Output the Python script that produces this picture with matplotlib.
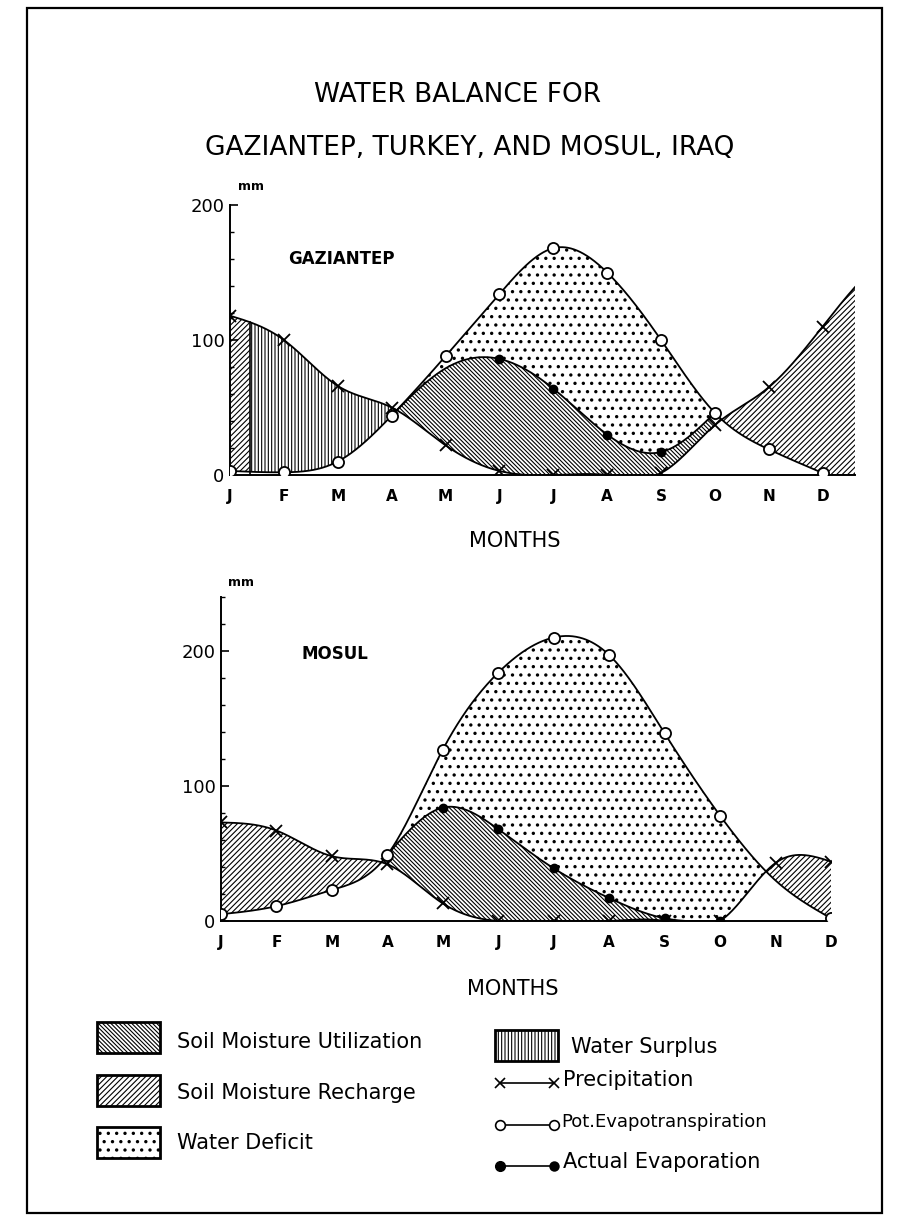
import matplotlib
matplotlib.use('Agg')
import matplotlib.pyplot as plt
import numpy as np
from matplotlib.patches import Rectangle

# monthly values (mm)
months = ['J', 'F', 'M', 'A', 'M', 'J', 'J', 'A', 'S', 'O', 'N', 'D']

gaz_precip = [118, 100, 66, 50, 22, 3, 0, 0, 1.5, 37, 65, 110]
gaz_pet = [3, 2, 10, 44, 88, 134, 168, 150, 100, 46, 19, 1.5]
gaz_ae_months = [3, 4, 5, 6, 7, 8, 9]
gaz_ae = [44, 79, 86, 64, 30, 17, 46]

mos_precip = [73, 67, 48, 42, 13, 0, 0, 0, 0, 0, 43, 44]
mos_pet = [5, 11, 23, 49, 127, 184, 210, 197, 139, 78, 30, 2]
mos_ae_months = [3, 4, 5, 6, 7, 8, 9]
mos_ae = [49, 84, 68, 39, 17, 2, 0]

W, H = 905, 1228
plt.rcParams['font.family'] = ['DejaVu Sans']
plt.rcParams['hatch.linewidth'] = 0.8

HATCH_UTIL = '\\' * 8
HATCH_RECH = '/' * 6
HATCH_SURP = '|||||'
HATCH_DEF = '..'


def smooth(xk, yk, x):
    # natural cubic spline, just for drawing the hand-drawn looking curves
    xk = np.asarray(xk, float)
    yk = np.asarray(yk, float)
    n = len(xk)
    h = np.diff(xk)
    A = np.zeros((n, n))
    r = np.zeros(n)
    A[0, 0] = A[-1, -1] = 1
    for i in range(1, n - 1):
        A[i, i - 1] = h[i - 1]
        A[i, i] = 2 * (h[i - 1] + h[i])
        A[i, i + 1] = h[i]
        r[i] = 3 * ((yk[i + 1] - yk[i]) / h[i] - (yk[i] - yk[i - 1]) / h[i - 1])
    c = np.linalg.solve(A, r)
    b = (yk[1:] - yk[:-1]) / h - h * (2 * c[:-1] + c[1:]) / 3
    d = (c[1:] - c[:-1]) / (3 * h)
    idx = np.clip(np.searchsorted(xk, x) - 1, 0, n - 2)
    dx = x - xk[idx]
    return yk[idx] + b[idx] * dx + c[idx] * dx ** 2 + d[idx] * dx ** 3


def dots(artist):
    # slightly fatter dots for the water deficit pattern
    if hasattr(artist, 'set_hatch_linewidth'):
        artist.set_hatch_linewidth(1.2)
    return artist


def px(x, y):
    return x / W, 1 - y / H


fig = plt.figure(figsize=(W / 100, H / 100), dpi=100)

bg = fig.add_axes([0, 0, 1, 1])
bg.set_xlim(0, W)
bg.set_ylim(H, 0)
bg.axis('off')
bg.add_patch(Rectangle((27, 8), 855, 1205, fill=False, lw=1.6, ec='black'))

fig.text(*px(458, 95), 'WATER BALANCE FOR', ha='center', va='center', fontsize=19)
fig.text(*px(470, 148), 'GAZIANTEP, TURKEY, AND MOSUL, IRAQ', ha='center', va='center',
         fontsize=19)


def chart(rect, precip, pet, ae_m, ae, xmax, ymax, name, name_xy, split=None,
          pet_marks=None, ae_marks=None):
    ax = fig.add_axes(rect)
    m = np.arange(12)
    x = np.linspace(0, xmax, 1200)
    P = np.clip(smooth(m, precip, x), 0, None)
    E = np.clip(smooth(m, pet, x), 0, None)
    inr = (x >= ae_m[0]) & (x <= ae_m[-1])
    A = np.clip(smooth(ae_m, ae, x), 0, None)
    A = np.minimum(A, E)
    aef = np.where(P >= E, E, np.where(inr, np.maximum(A, P), P))

    kw = dict(facecolor='none', edgecolor='black', linewidth=0, interpolate=True)
    dots(ax.fill_between(x, E, aef, where=E > aef, hatch=HATCH_DEF, **kw))
    ax.fill_between(x, aef, P, where=aef > P, hatch=HATCH_UTIL, **kw)
    if split is None:
        ax.fill_between(x, P, E, where=P > E, hatch=HATCH_RECH, **kw)
    else:
        s0, s1 = split
        ax.fill_between(x, P, E, where=(P > E) & ((x <= s0) | (x >= s1)),
                        hatch=HATCH_RECH, **kw)
        ax.fill_between(x, P, E, where=(P > E) & (x >= s0) & (x <= s1),
                        hatch=HATCH_SURP, **kw)
        ax.plot([s0, s0], [0, np.interp(s0, x, P)], color='black', lw=1.2)

    ax.plot(x, P, color='black', lw=1.3)
    ax.plot(x, E, color='black', lw=1.3)
    ax.plot(x[inr], np.maximum(A, P)[inr], color='black', lw=1.3)

    ax.plot(m, precip, ls='none', marker='x', ms=8, mew=1.3, color='black', zorder=5)
    pm = m if pet_marks is None else pet_marks
    ax.plot(pm, np.asarray(pet)[pm], ls='none', marker='o', ms=8, mew=1.3,
            mfc='white', mec='black', zorder=6)
    am = np.asarray(ae_marks)
    ax.plot(am, np.interp(am, ae_m, ae), ls='none', marker='o', ms=6,
            color='black', zorder=7)

    ax.set_xlim(0, xmax)
    ax.set_ylim(0, ymax)
    ax.spines['top'].set_visible(False)
    ax.spines['right'].set_visible(False)
    ax.spines['left'].set_linewidth(1.4)
    ax.spines['bottom'].set_linewidth(1.4)
    ax.set_xticks(m)
    ax.set_xticklabels(months, fontsize=11, fontweight='bold')
    ax.tick_params(axis='x', length=0, pad=10)
    ax.set_yticks([0, 100, 200])
    ax.set_yticks(np.arange(0, ymax + 1, 20), minor=True)
    ax.tick_params(axis='y', which='major', direction='in', length=6, width=1.2,
                   labelsize=13, pad=4)
    ax.tick_params(axis='y', which='minor', direction='in', length=3, width=1)
    ax.patch.set_alpha(0)
    ax.text(name_xy[0], name_xy[1], name, fontsize=12, fontweight='bold',
            ha='left', va='center')
    return ax


chart([230 / W, 1 - 475 / H, 625 / W, 270 / H], gaz_precip, gaz_pet, gaz_ae_months,
      gaz_ae, 11.6, 200, 'GAZIANTEP', (1.08, 160), split=(0.37, 4.5),
      ae_marks=[5, 6, 7, 8])
chart([221 / W, 1 - 921 / H, 610 / W, 324 / H], mos_precip, mos_pet, mos_ae_months,
      mos_ae, 11.0, 240, 'MOSUL', (1.45, 198),
      pet_marks=[0, 1, 2, 3, 4, 5, 6, 7, 8, 9, 11], ae_marks=[4, 5, 6, 7, 8, 9])

fig.text(*px(238, 187), 'mm', ha='left', va='center', fontsize=9, fontweight='bold')
fig.text(*px(228, 583), 'mm', ha='left', va='center', fontsize=9, fontweight='bold')
fig.text(*px(515, 541), 'MONTHS', ha='center', va='center', fontsize=15)
fig.text(*px(513, 989), 'MONTHS', ha='center', va='center', fontsize=15)

# legend
boxes = [((97, 1022), HATCH_UTIL, 'Soil Moisture Utilization', (177, 1042)),
         ((97, 1075), HATCH_RECH, 'Soil Moisture Recharge', (177, 1093)),
         ((97, 1127), HATCH_DEF, 'Water Deficit', (177, 1143)),
         ((495, 1030), HATCH_SURP, 'Water Surplus', (571, 1047))]
for (bx, by), hat, label, (tx, ty) in boxes:
    box = bg.add_patch(Rectangle((bx, by), 63, 31, facecolor='white', edgecolor='black',
                                 lw=2, hatch=hat))
    if hat == HATCH_DEF:
        dots(box)
    bg.text(tx, ty, label, fontsize=15, ha='left', va='center')

bg.plot([500, 554], [1083, 1083], color='black', lw=1.2)
bg.plot([500, 554], [1083, 1083], ls='none', marker='x', ms=7, mew=1.2, color='black')
bg.text(563, 1080, 'Precipitation', fontsize=15, ha='left', va='center')
bg.plot([500, 554], [1125, 1125], color='black', lw=1.2)
bg.plot([500, 554], [1125, 1125], ls='none', marker='o', ms=7, mew=1.2,
        mfc='white', mec='black')
bg.text(561, 1122, 'Pot.Evapotranspiration', fontsize=13, ha='left', va='center')
bg.plot([500, 554], [1166, 1166], color='black', lw=1.2)
bg.plot([500], [1166], ls='none', marker='o', ms=7, color='black')
bg.plot([554], [1166], ls='none', marker='o', ms=6, mew=1.5, mfc='black', mec='black')
bg.text(563, 1162, 'Actual Evaporation', fontsize=15, ha='left', va='center')

fig.savefig('out.png', dpi=100)
